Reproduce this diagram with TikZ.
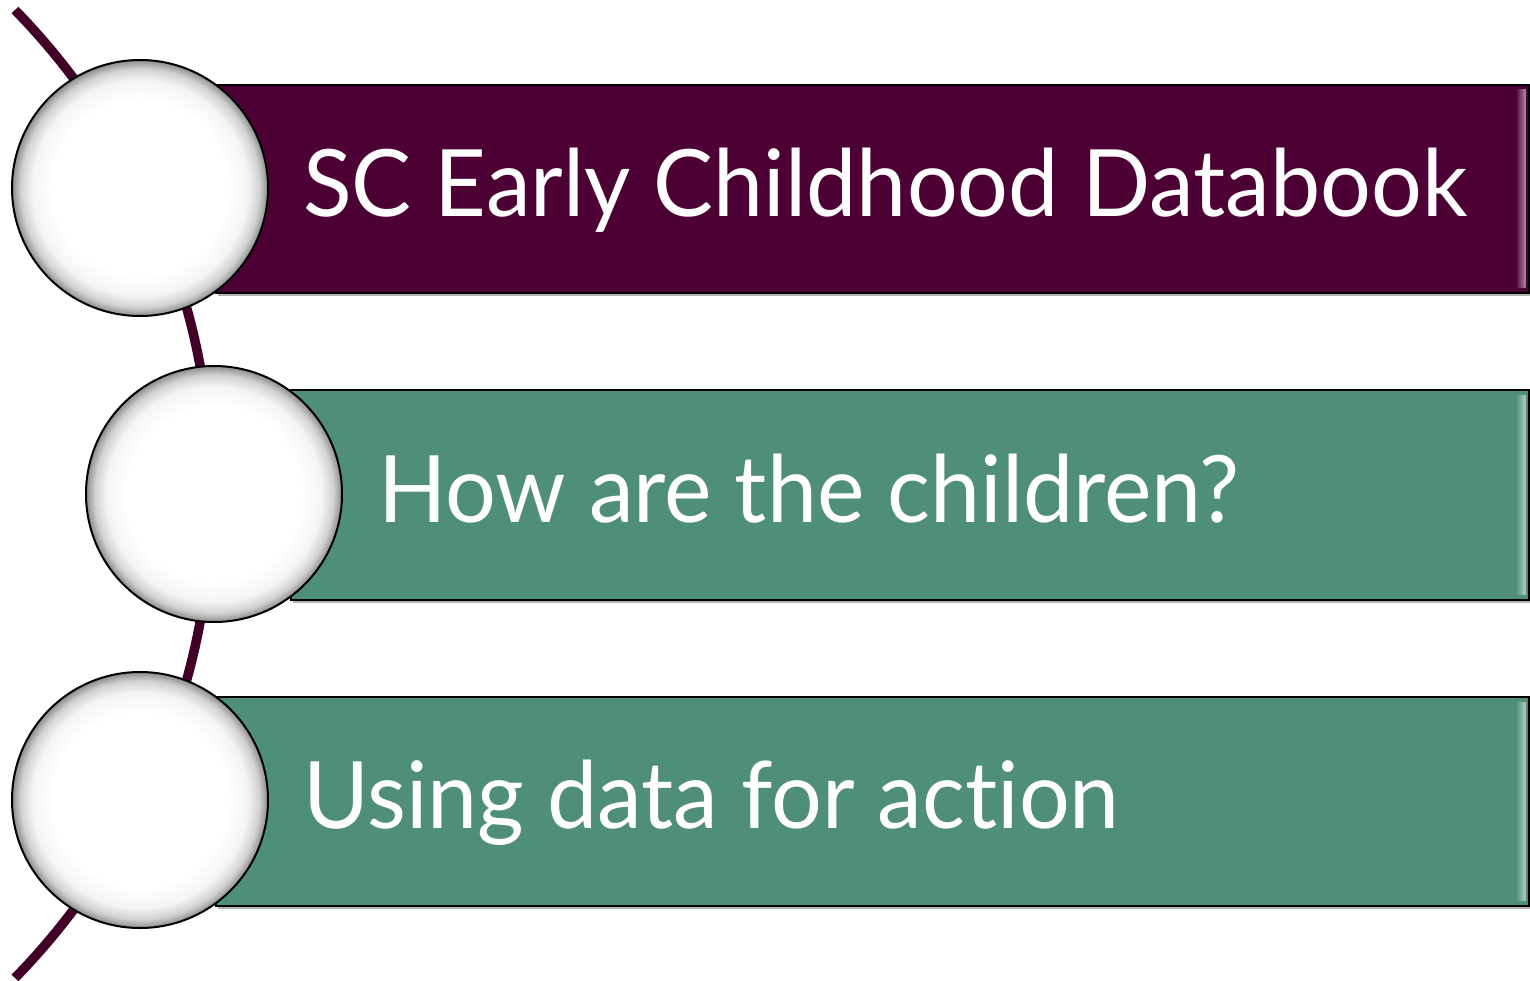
\documentclass[tikz,border=0pt]{standalone}
\usepackage{fontspec}
\setmainfont{Lato}
\newfontfamily\barfont[FakeStretch=0.965,Ligatures=NoCommon]{Lato}
\usetikzlibrary{calc}
\definecolor{plum}{HTML}{4D0034}
\definecolor{arcplum}{HTML}{420029}
\definecolor{sea}{HTML}{4F8F79}
\pgfdeclareradialshading{glass}{\pgfpoint{0bp}{0bp}}{%
  color(0bp)=(white); color(17bp)=(white); color(21bp)=(black!4);
  color(23.3bp)=(black!18); color(25bp)=(black!45); color(50bp)=(black!45)}
\tikzset{
  barbox/.style={draw=black, line width=1.6pt, anchor=north west, inner sep=0pt},
  bartext/.style={text=white, font=\barfont\fontsize{93}{100}\selectfont, anchor=base west, inner sep=0pt},
  bubble/.style={circle, draw=black, line width=2pt, minimum size=256pt, inner sep=0pt, shade, shading=glass},
  spine/.style={draw=arcplum, line width=9.5pt}
}
\begin{document}
\begin{tikzpicture}[x=1pt,y=-1pt]
\useasboundingbox (0,0) rectangle (1530,981);
\coordinate (arcstart) at (15,10);
\draw[spine] (arcstart) arc[start angle=-44.3, end angle=44.3, radius=693];
% shadows
\fill[black!30] (218,88) rectangle (1530,296);
\fill[black!30] (293,393) rectangle (1530,603);
\fill[black!30] (218,700) rectangle (1530,909);
% bars
\node[barbox, fill=plum, minimum width=1313pt, minimum height=208pt] (bar1) at (215,84) {};
\node[barbox, fill=sea, minimum width=1238pt, minimum height=210pt] (bar2) at (290,389) {};
\node[barbox, fill=sea, minimum width=1313pt, minimum height=209pt] (bar3) at (215,696) {};
% bevel on right edges
\shade[left color=plum, right color=plum!45!white] ($(bar1.north east)+(-14,6)$) rectangle ($(bar1.south east)+(-4,-6)$);
\shade[left color=sea, right color=sea!45!white] ($(bar2.north east)+(-14,6)$) rectangle ($(bar2.south east)+(-4,-6)$);
\shade[left color=sea, right color=sea!45!white] ($(bar3.north east)+(-14,6)$) rectangle ($(bar3.south east)+(-4,-6)$);
% texts
\node[bartext] (t1) at (303,217) {SC Early Childhood Databook};
\node[bartext] (t2) at (378,522) {How are the children?};
\node[bartext] (t3) at (303,828) {Using data for action};
% circles
\node[bubble] (c1) at (140,188) {};
\node[bubble] (c2) at (214,494) {};
\node[bubble] (c3) at (140,800) {};
\end{tikzpicture}
\end{document}
